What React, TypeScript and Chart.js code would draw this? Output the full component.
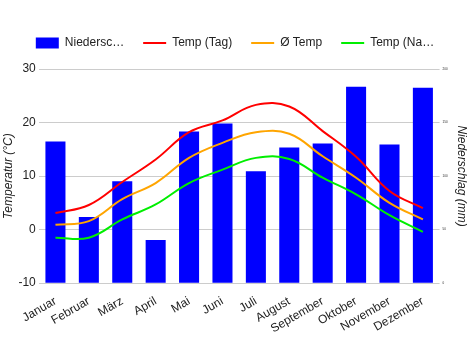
import React, { useEffect, useRef } from 'react';
import { Chart, registerables } from 'chart.js';
Chart.register(...registerables);

const months = ['Januar', 'Februar', 'März', 'April', 'Mai', 'Juni', 'Juli', 'August', 'September', 'Oktober', 'November', 'Dezember'];
const precipitation = [132.4, 61.7, 95.2, 40.3, 141.7, 149.1, 104.5, 126.8, 130.5, 183.5, 129.6, 182.6];
const tempDay = [3.1, 4.6, 8.9, 13.1, 18.2, 20.4, 23.3, 23.0, 18.4, 13.6, 7.2, 4.0];
const tempAvg = [0.9, 1.6, 5.7, 8.7, 13.4, 16.2, 18.2, 17.9, 13.7, 9.7, 5.0, 1.9];
const tempNight = [-1.5, -1.5, 1.9, 4.7, 8.7, 11.2, 13.4, 13.2, 9.7, 6.6, 2.7, -0.4];

const FONT = "'Liberation Sans', Arial, sans-serif";

const legendSpacer = {
  id: 'legendSpacer',
  beforeInit(chart: any) {
    const legend = chart.legend;
    if (!legend) return;
    const orig = legend.fit;
    legend.fit = function () {
      orig.call(this);
      this.height += 10;
    };
  },
};

export default function App() {
  const ref = useRef<HTMLCanvasElement>(null);
  useEffect(() => {
    document.body.style.margin = '0';
    const chart = new Chart(ref.current!, {
      data: {
        labels: months,
        datasets: [
          {
            type: 'bar',
            label: 'Niederschlag',
            data: precipitation,
            backgroundColor: '#0000ff',
            borderWidth: 0,
            yAxisID: 'y1',
            barPercentage: 0.75,
            categoryPercentage: 0.8,
            order: 2,
            pointStyle: 'rect',
          } as any,
          {
            type: 'line',
            label: 'Temp (Tag)',
            data: tempDay,
            borderColor: '#ff0000',
            backgroundColor: '#ff0000',
            borderWidth: 2,
            pointRadius: 0,
            tension: 0.4,
            yAxisID: 'y',
            order: 1,
            pointStyle: 'line',
          },
          {
            type: 'line',
            label: 'Ø Temp',
            data: tempAvg,
            borderColor: '#ffa500',
            backgroundColor: '#ffa500',
            borderWidth: 2,
            pointRadius: 0,
            tension: 0.4,
            yAxisID: 'y',
            order: 1,
            pointStyle: 'line',
          },
          {
            type: 'line',
            label: 'Temp (Nacht)',
            data: tempNight,
            borderColor: '#00ee00',
            backgroundColor: '#00ee00',
            borderWidth: 2,
            pointRadius: 0,
            tension: 0.4,
            yAxisID: 'y',
            order: 1,
            pointStyle: 'line',
          },
        ],
      },
      options: {
        animation: false,
        responsive: true,
        maintainAspectRatio: false,
        layout: { padding: { top: 18, left: 0, right: 0, bottom: 11 } },
        plugins: {
          legend: {
            position: 'top',
            labels: {
              font: { family: FONT, size: 12 },
              color: '#222',
              usePointStyle: true,
              pointStyleWidth: 23,
              boxHeight: 11,
              padding: 19,
              sort: (a: any, b: any) => a.datasetIndex - b.datasetIndex,
              generateLabels: (c: any) => {
                const items = Chart.defaults.plugins.legend.labels.generateLabels(c);
                return items.map((it: any) => ({
                  ...it,
                  text: it.text.length > 10 ? it.text.slice(0, 8) + '…' : it.text,
                }));
              },
            },
          },
          tooltip: { enabled: false },
        },
        scales: {
          x: {
            grid: { display: false },
            border: { display: false },
            ticks: {
              font: { family: FONT, size: 12 },
              color: '#222',
              maxRotation: 30,
              minRotation: 30,
              autoSkip: false,
            },
          },
          y: {
            position: 'left',
            min: -10,
            max: 30,
            ticks: { stepSize: 10, font: { family: FONT, size: 12 }, color: '#222' },
            grid: { color: '#cccccc', drawTicks: false },
            border: { display: false },
            title: {
              display: true,
              text: 'Temperatur (°C)',
              font: { family: FONT, size: 12, style: 'italic' },
              color: '#222',
              padding: { top: 1, bottom: 0 },
            },
          },
          y1: {
            position: 'right',
            min: 0,
            max: 200,
            ticks: { stepSize: 50, font: { family: FONT, size: 3 }, color: '#222' },
            grid: { drawOnChartArea: false, drawTicks: false },
            border: { display: false },
            title: {
              display: true,
              text: 'Niederschlag (mm)',
              font: { family: FONT, size: 12, style: 'italic' },
              color: '#222',
              padding: { top: 1, bottom: 4 },
            },
          },
        },
      },
      plugins: [legendSpacer],
    });
    return () => chart.destroy();
  }, []);
  return (
    <div style={{ width: 470, height: 350 }}>
      <canvas ref={ref} />
    </div>
  );
}
